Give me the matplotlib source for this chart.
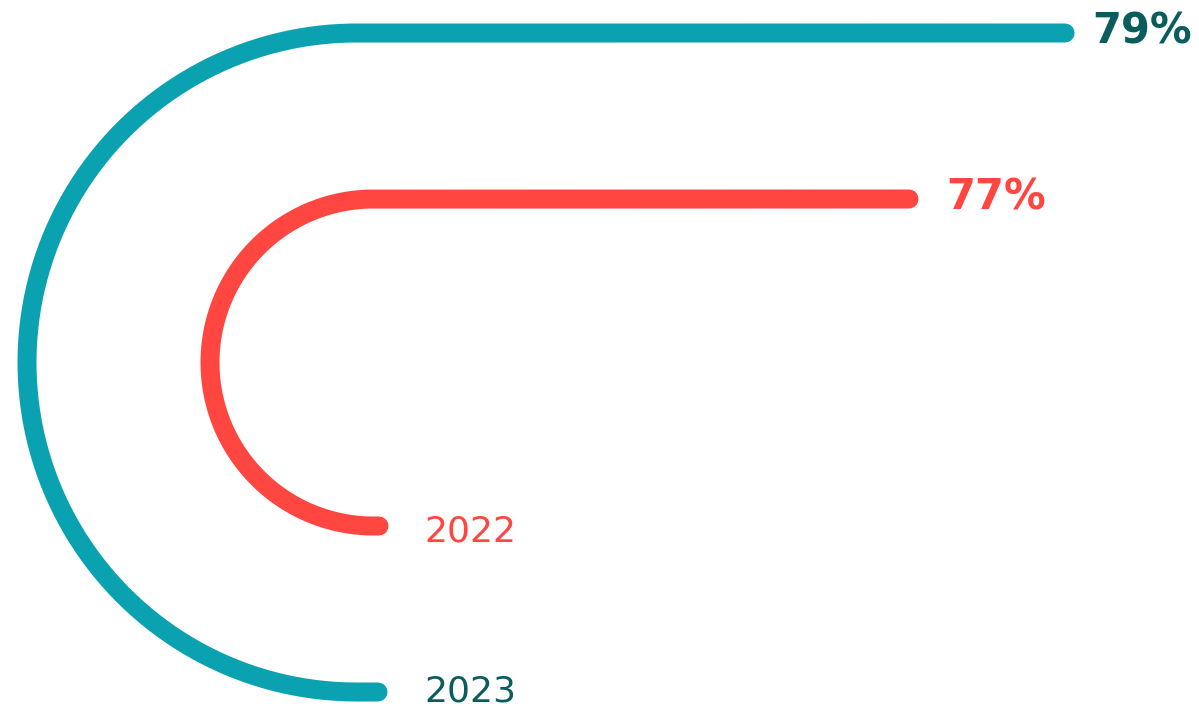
import numpy as np
import matplotlib.pyplot as plt

# data
years = ["2023", "2022"]
values = [79, 77]
line_colors = ["#0AA2B0", "#FF4641"]
text_colors = ["#0B5C5C", "#FF4641"]

# track layout (pixels)
radius = [329.5, 163.5]
center_x = [356.5, 373.5]
track_len = [897, 695.5]     # length of the top bar at 100%
tail_x = [378, 379]          # where the bottom stub ends
label_pad = [27, 37]
year_drop = [10, 16]
center_y = 362.5

W, H = 1199, 710
fig = plt.figure(figsize=(W / 100, H / 100), dpi=100)
ax = fig.add_axes([0, 0, 1, 1])
ax.set_xlim(0, W)
ax.set_ylim(H, 0)
ax.axis('off')

lw = 19 * 72 / 100

for i in range(len(years)):
    r = radius[i]
    cx = center_x[i]
    end_x = cx + values[i] / 100 * track_len[i]
    top_y = center_y - r
    bot_y = center_y + r

    theta = np.linspace(np.pi / 2, 3 * np.pi / 2, 200)
    arc_x = cx + r * np.cos(theta)
    arc_y = center_y - r * np.sin(theta)

    xs = np.concatenate([[end_x], arc_x, [tail_x[i]]])
    ys = np.concatenate([[top_y], arc_y, [bot_y]])
    ax.plot(xs, ys, color=line_colors[i], lw=lw, solid_capstyle='round',
            solid_joinstyle='round')

    ax.text(end_x + label_pad[i], top_y + 10.5, f"{values[i]}%", color=text_colors[i],
            fontsize=30, fontweight='bold', family='DejaVu Sans',
            ha='left', va='baseline')
    ax.text(424, bot_y + year_drop[i], years[i], color=text_colors[i],
            fontsize=26, family='DejaVu Sans', ha='left', va='baseline')

fig.savefig("out.png", dpi=100)
